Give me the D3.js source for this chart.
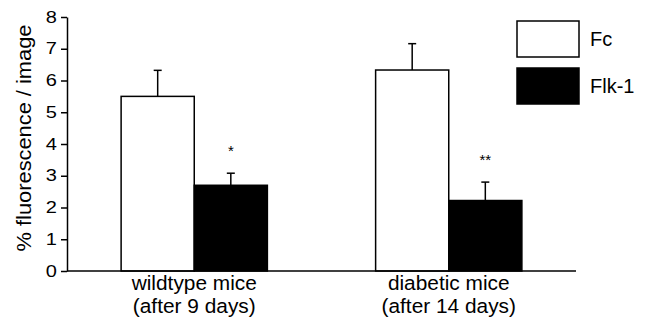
<!DOCTYPE html>
<html>
<head>
<meta charset="utf-8">
<script src="https://cdn.jsdelivr.net/npm/d3@7"></script>
<style>
  body { margin: 0; background: #fff; }
  svg { display: block; font-family: "Liberation Sans", Arial, sans-serif; }
</style>
</head>
<body>
<div id="chart"></div>
<script>
// data
const groups = ['wildtype mice\n(after 9 days)', 'diabetic mice\n(after 14 days)'];
const seriesNames = ['Fc', 'Flk-1'];
const fcValues = [5.5, 6.33];
const fcErrors = [0.82, 0.83];
const flkValues = [2.7, 2.22];
const flkErrors = [0.38, 0.58];
const flkStars = ['*', '**'];
const yTicks = [0, 1, 2, 3, 4, 5, 6, 7, 8];

const width = 648, height = 320;
const margin = { top: 17, right: 72, bottom: 49, left: 67 };

const svg = d3.select('#chart').append('svg')
  .attr('width', width)
  .attr('height', height);

const y = d3.scaleLinear().domain([0, 8]).range([height - margin.bottom, margin.top]);
const x0 = d3.scaleBand().domain(groups).range([margin.left, width - margin.right]).padding(0);
const x1 = d3.scaleBand().domain(seriesNames).range([0, x0.bandwidth()])
  .paddingInner(0).paddingOuter(0.74);

const rows = groups.map((g, i) => ({
  group: g,
  bars: [
    { name: 'Fc', value: fcValues[i], err: fcErrors[i], fill: '#fff', star: '' },
    { name: 'Flk-1', value: flkValues[i], err: flkErrors[i], fill: '#000', star: flkStars[i] }
  ]
}));

const g = svg.append('g');

const groupSel = g.selectAll('.grp')
  .data(rows)
  .enter()
  .append('g')
  .attr('class', 'grp')
  .attr('transform', d => `translate(${x0(d.group)},0)`);

const bar = groupSel.selectAll('.bar')
  .data(d => d.bars)
  .enter()
  .append('g')
  .attr('class', 'bar');

const cx = d => x1(d.name) + x1.bandwidth() / 2;

// error bars (upper only)
bar.append('line')
  .attr('x1', cx)
  .attr('x2', cx)
  .attr('y1', d => y(d.value))
  .attr('y2', d => y(d.value + d.err))
  .attr('stroke', '#000')
  .attr('stroke-width', 1.5);

bar.append('line')
  .attr('x1', d => cx(d) - 4)
  .attr('x2', d => cx(d) + 4)
  .attr('y1', d => y(d.value + d.err))
  .attr('y2', d => y(d.value + d.err))
  .attr('stroke', '#000')
  .attr('stroke-width', 1.5);

bar.append('rect')
  .attr('x', d => x1(d.name))
  .attr('y', d => y(d.value))
  .attr('width', x1.bandwidth())
  .attr('height', d => y(0) - y(d.value))
  .attr('fill', d => d.fill)
  .attr('stroke', '#000')
  .attr('stroke-width', 1.5);

bar.filter(d => d.star)
  .append('text')
  .attr('x', cx)
  .attr('y', d => y(d.value + d.err) - 17)
  .attr('text-anchor', 'middle')
  .attr('font-size', 15)
  .text(d => d.star);

// y axis
const yAxis = svg.append('g')
  .attr('transform', `translate(${margin.left},0)`)
  .call(d3.axisLeft(y).tickValues(yTicks).tickSize(6).tickPadding(4).tickSizeOuter(0));
yAxis.select('.domain').attr('stroke-width', 1.5);
yAxis.selectAll('.tick line').attr('stroke-width', 1.5);
yAxis.selectAll('.tick text')
  .attr('font-size', 16)
  .attr('fill', '#000')
  .attr('font-family', '"Liberation Sans", Arial, sans-serif')
  .attr('x', 0)
  .attr('transform', 'translate(-10,0) scale(1.25,1)');

// x axis line
svg.append('line')
  .attr('x1', margin.left)
  .attr('x2', width - margin.right)
  .attr('y1', y(0))
  .attr('y2', y(0))
  .attr('stroke', '#000')
  .attr('stroke-width', 1.5);

// group labels
const xl = svg.selectAll('.xlab')
  .data(groups)
  .enter()
  .append('text')
  .attr('class', 'xlab')
  .attr('text-anchor', 'middle')
  .attr('font-size', 19.5)
  .attr('transform', d => `translate(${x0(d) + x0.bandwidth() / 2},0) scale(1.07,1)`);
xl.selectAll('tspan')
  .data(d => d.split('\n'))
  .enter()
  .append('tspan')
  .attr('x', 0)
  .attr('y', (d, i) => y(0) + 19 + i * 23.5)
  .text(d => d);

// y axis title
svg.append('text')
  .attr('transform', `translate(31,${(y(0) + y(8)) / 2 - 6}) rotate(-90) scale(1.12,1)`)
  .attr('text-anchor', 'middle')
  .attr('font-size', 19.5)
  .text('% fluorescence / image');

// legend
const legend = svg.append('g').attr('transform', 'translate(517,21)');
const lg = legend.selectAll('.leg')
  .data([{ name: 'Fc', fill: '#fff' }, { name: 'Flk-1', fill: '#000' }])
  .enter()
  .append('g')
  .attr('transform', (d, i) => `translate(0,${i * 47})`);
lg.append('rect')
  .attr('width', 62)
  .attr('height', 36)
  .attr('fill', d => d.fill)
  .attr('stroke', '#000')
  .attr('stroke-width', 1.5);
lg.append('text')
  .attr('x', 73)
  .attr('y', 25)
  .attr('font-size', 20)
  .text(d => d.name);
</script>
</body>
</html>
